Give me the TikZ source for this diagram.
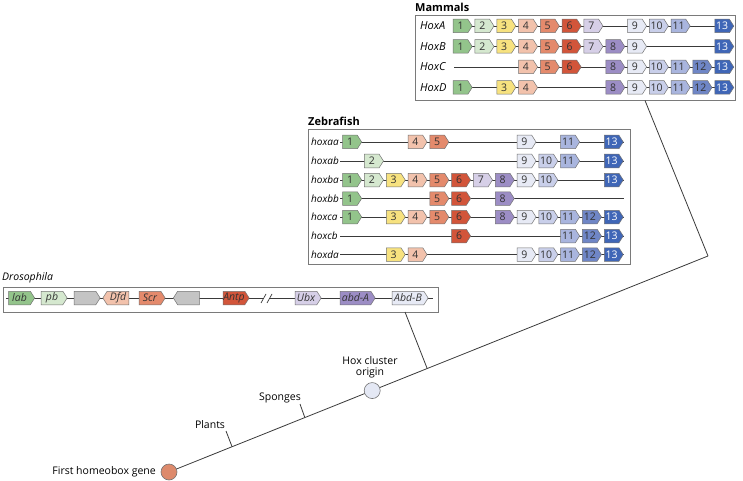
\documentclass[tikz,border=0pt]{standalone}
\usepackage{fontspec}
\setmainfont{Open Sans}
\usetikzlibrary{shapes.symbols,calc}
\definecolor{c1}{HTML}{93C48B}
\definecolor{c2}{HTML}{D5E8CF}
\definecolor{c3}{HTML}{F7E27F}
\definecolor{c4}{HTML}{F2C2AC}
\definecolor{c5}{HTML}{E48A6C}
\definecolor{c6}{HTML}{D2553A}
\definecolor{c7}{HTML}{D6CFE7}
\definecolor{c8}{HTML}{9C8DC5}
\definecolor{c9}{HTML}{E7EAF5}
\definecolor{c10}{HTML}{C9CFEA}
\definecolor{c11}{HTML}{A9B5DE}
\definecolor{c12}{HTML}{6F86C6}
\definecolor{c13}{HTML}{3F66B7}
\definecolor{cgray}{HTML}{C4C4C4}
\definecolor{rootc}{HTML}{DD8A6C}
\definecolor{originc}{HTML}{E4E8F4}
\definecolor{framec}{HTML}{7A7A7A}
\definecolor{linec}{HTML}{3A3A3A}
\tikzset{
  gene/.style={signal, signal to=east, signal pointer angle=115, draw=black!55, line width=0.5,
    inner sep=0, minimum width=19, minimum height=13.5, font=\fontsize{10.5}{11}\selectfont, text=black!80},
  dgene/.style={gene, minimum width=26, font=\fontsize{10.5}{11}\selectfont\itshape},
  g1/.style={fill=c1}, g2/.style={fill=c2}, g3/.style={fill=c3}, g4/.style={fill=c4},
  g5/.style={fill=c5}, g6/.style={fill=c6}, g7/.style={fill=c7}, g8/.style={fill=c8},
  g9/.style={fill=c9}, g10/.style={fill=c10}, g11/.style={fill=c11}, g12/.style={fill=c12},
  g13/.style={fill=c13, text=white}, ggray/.style={fill=cgray},
  rowline/.style={draw=linec, line width=0.9},
  frame/.style={draw=framec, line width=0.8, fill=white, inner sep=0},
  mlabel/.style={anchor=west, inner sep=0, font=\fontsize{11}{12}\selectfont\itshape},
  zlabel/.style={anchor=west, inner sep=0, font=\fontsize{10}{11}\selectfont\itshape},
  title/.style={anchor=west, inner sep=0, font=\fontsize{11}{12}\selectfont\bfseries},
  treetext/.style={inner sep=0, font=\fontsize{10.5}{12}\selectfont},
  tick/.style={draw=linec, line width=0.8},
}
\begin{document}
\begin{tikzpicture}[x=1pt,y=-1pt]
\useasboundingbox (0,0) rectangle (743,481);

% ---------- tree ----------
\coordinate (root) at (169,472);
\coordinate (top) at (708,256);
\coordinate (plantsB) at ($(root)!0.117!(top)$);
\coordinate (spongesB) at ($(root)!0.252!(top)$);
\coordinate (originB) at ($(root)!0.377!(top)$);
\coordinate (drosB) at ($(root)!0.479!(top)$);
\draw[tick] (root) -- (top);
\coordinate (plantsT) at (226,431);
\coordinate (spongesT) at (300,404);
\draw[tick] (plantsB) -- (plantsT);
\draw[tick] (spongesB) -- (spongesT);
\node[treetext] (plants) at (210,425) {Plants};
\node[treetext] (sponges) at (280,398) {Sponges};
\node[circle, draw=black!55, line width=0.6, fill=rootc, minimum size=16, inner sep=0] (rootn) at (root) {};
\node[circle, draw=black!55, line width=0.6, fill=originc, minimum size=16, inner sep=0] (originn) at (originB) {};
\node[treetext, anchor=east] (firstlab) at (156,472) {First homeobox gene};
\node[treetext, align=center] (originlab) at (370,367) {Hox cluster\\[-1pt]origin};

% ---------- Drosophila ----------
\node[frame, minimum width=435, minimum height=25] (dbox) at (220.5,299.5) {};
\node[title, font=\fontsize{10.5}{12}\selectfont\itshape] (dtitle) at (2,278) {Drosophila};
\coordinate (dL) at (6,298);
\coordinate (dR) at (433,298);
\draw[rowline] (dL) -- (dR);
\fill[white] (262,304) -- (266,293) -- (271,293) -- (267,304) -- cycle;
\coordinate (br1a) at (261,303); \coordinate (br1b) at (266,294);
\coordinate (br2a) at (267,303); \coordinate (br2b) at (272,294);
\draw[rowline, line width=0.7] (br1a) -- (br1b);
\draw[rowline, line width=0.7] (br2a) -- (br2b);
\node[dgene, g1] (lab) at (19.5,298) {lab};
\node[dgene, g2] (pb) at (52,298) {pb};
\node[dgene, ggray] (grayA) at (85,298) {};
\node[dgene, g4, signal to=west] (dfd) at (118,298) {Dfd};
\node[dgene, g5] (scr) at (150,298) {Scr};
\node[dgene, ggray, signal to=west] (grayB) at (188.5,298) {};
\node[dgene, g6] (antp) at (234,298) {Antp};
\node[dgene, g7] (ubx) at (306,298) {Ubx};
\node[dgene, g8, minimum width=35] (abda) at (355.5,298) {abd-A};
\node[dgene, g9, minimum width=36] (abdb) at (408,298) {Abd-B};
\coordinate (dtickT) at (405,312);
\draw[tick] (dtickT) -- (drosB);

% ---------- Zebrafish ----------
\node[frame, minimum width=322, minimum height=135] (zbox) at (469,196.5) {};
\node[title] (ztitle) at (308,121) {Zebrafish};
\foreach \lab/\yy/\list [count=\r] in {
  hoxaa/142/{1,4,5,9,11,13},
  hoxab/161/{2,9,10,11,13},
  hoxba/180/{1,2,3,4,5,6,7,8,9,10,13},
  hoxbb/198.5/{1,5,6,8},
  hoxca/217/{1,3,4,5,6,8,9,10,11,12,13},
  hoxcb/236/{6,11,12,13},
  hoxda/254.5/{3,4,9,10,11,12,13}}{
  \coordinate (zL\r) at (340,\yy);
  \coordinate (zR\r) at (624,\yy);
  \draw[rowline] (zL\r) -- (zR\r);
  \node[zlabel] (zlab\r) at (311,\yy) {\lab};
  \foreach \k in \list {
    \node[gene, g\k] (z\r-\k) at ({350+(\k-1)*21.8},\yy) {\k};
  }
}

% ---------- Mammals ----------
\node[frame, minimum width=320, minimum height=85] (mbox) at (575,57.5) {};
\node[title] (mtitle) at (415,7) {Mammals};
\foreach \lab/\yy/\list [count=\r] in {
  HoxA/26/{1,2,3,4,5,6,7,9,10,11,13},
  HoxB/46.5/{1,2,3,4,5,6,7,8,9,13},
  HoxC/67/{4,5,6,8,9,10,11,12,13},
  HoxD/87.5/{1,3,4,8,9,10,11,12,13}}{
  \coordinate (mL\r) at (454,\yy);
  \coordinate (mR\r) at (734,\yy);
  \draw[rowline] (mL\r) -- (mR\r);
  \node[mlabel] (mlab\r) at (420,\yy) {\lab};
  \foreach \k in \list {
    \node[gene, g\k] (m\r-\k) at ({460.5+(\k-1)*21.8},\yy) {\k};
  }
}
\coordinate (mtickT) at (645,100.5);
\draw[tick] (mtickT) -- (top);
\end{tikzpicture}
\end{document}
